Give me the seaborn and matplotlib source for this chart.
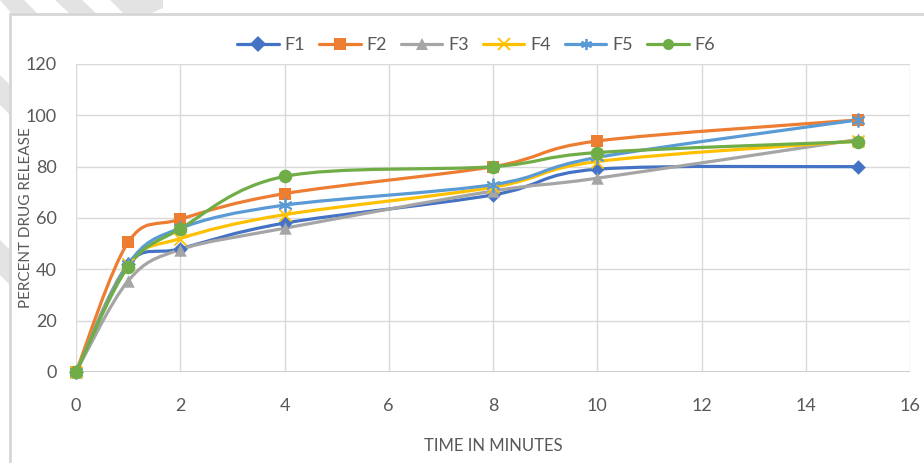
import numpy as np
import pandas as pd
import seaborn as sns
import matplotlib.pyplot as plt
from matplotlib.path import Path
from matplotlib.patches import PathPatch, Rectangle, Polygon
from matplotlib.lines import Line2D

time_min = [0, 1, 2, 4, 8, 10, 15]
f1 = [0, 42, 48, 58, 69, 79, 80]
f2 = [0, 50.5, 59.5, 69.5, 80, 90, 98.2]
f3 = [0, 35.5, 47.7, 56, 70.5, 75.5, 90.6]
f4 = [0, 42, 52, 61.3, 72, 82, 90]
f5 = [0, 42, 56, 65, 73, 83.6, 98.2]
f6 = [0, 41, 55.8, 76.2, 80, 85.5, 89.8]

names = ['F1', 'F2', 'F3', 'F4', 'F5', 'F6']
colors = ['#4472C4', '#ED7D31', '#A5A5A5', '#FFC000', '#5B9BD5', '#70AD47']
markers = ['D', 's', '^', 'x', (6, 2, 0), 'o']
msizes = [55, 85, 80, 75, 85, 95]

df = pd.DataFrame({'time': time_min, 'F1': f1, 'F2': f2, 'F3': f3,
                   'F4': f4, 'F5': f5, 'F6': f6})

sns.set_style('white')
plt.rcParams['font.family'] = ['Lato', 'DejaVu Sans']

W, H = 924, 463
fig = plt.figure(figsize=(W / 100, H / 100), dpi=100)


def px(pts):
    return [(x / W, 1 - y / H) for x, y in pts]


# faint diagonal stripes of the scanned page, then the chart frame
stripes = [
    [(0, 0), (24, 0), (38, 14), (12, 14)],
    [(55, 0), (82, 0), (97, 14), (70, 14)],
    [(110, 0), (163, 0), (163, 8), (150, 14), (124, 14)],
    [(0, 75), (10, 85), (10, 115), (0, 105)],
    [(0, 240), (10, 250), (10, 285), (0, 275)],
]
for s in stripes:
    fig.patches.append(Polygon(px(s), closed=True, transform=fig.transFigure,
                               facecolor='#e3e3e3', edgecolor='none', zorder=0))
fig.patches.append(Rectangle((10 / W, -0.05), 1.2, 1 - 14 / H + 0.05,
                             transform=fig.transFigure, facecolor='white',
                             edgecolor='#d6d6d6', lw=2, zorder=1))

ax = fig.add_axes([76 / W, 1 - 372 / H, 834 / W, 308 / H])
ax.set_zorder(2)


def smooth_path(xs, ys):
    # Excel style smoothed line: cubic bezier through every point
    p = np.column_stack([xs, ys]).astype(float)
    n = len(p)
    verts = [p[0]]
    codes = [Path.MOVETO]
    for i in range(n - 1):
        prev = p[i - 1] if i > 0 else p[i]
        nxt = p[i + 2] if i + 2 < n else p[i + 1]
        c1 = p[i] + (p[i + 1] - prev) / 6
        c2 = p[i + 1] - (nxt - p[i]) / 6
        verts += [c1, c2, p[i + 1]]
        codes += [Path.CURVE4] * 3
    return Path(verts, codes)


for name, col in zip(names, colors):
    ax.add_patch(PathPatch(smooth_path(df['time'], df[name]), fill=False,
                           edgecolor=col, lw=2.3, zorder=3, clip_on=False))

for name, col, mk, ms in zip(names, colors, markers, msizes):
    line_art = mk == 'x' or isinstance(mk, tuple)
    sns.scatterplot(data=df, x='time', y=name, marker=mk, color=col, s=ms,
                    linewidth=1.3 if line_art else 0, ax=ax, zorder=4,
                    legend=False, clip_on=False)

ax.set_xlim(0, 16)
ax.set_ylim(0, 120)
ax.set_xticks(range(0, 17, 2))
ax.set_yticks(range(0, 121, 20))
ax.grid(True, color='#d9d9d9', lw=1)
for s in ax.spines.values():
    s.set_visible(False)
ax.axhline(0, color='#c8c8c8', lw=1.2, zorder=2)
ax.tick_params(axis='both', length=0, labelsize=13, colors='#595959')
ax.tick_params(axis='x', pad=19)
ax.tick_params(axis='y', pad=14)
ax.set_xlabel('TIME IN MINUTES', fontsize=12, color='#595959')
ax.set_ylabel('PERCENT DRUG RELEASE', fontsize=11, color='#595959')
ax.xaxis.set_label_coords(0.5, -0.214)
ax.yaxis.set_label_coords(-0.052, 0.5)

handles = [Line2D([], [], color=c, lw=2.3, marker=m, markersize=8,
                  markeredgewidth=1.3 if (m == 'x' or isinstance(m, tuple)) else 0)
           for c, m in zip(colors, markers)]
fig.legend(handles, names, loc='center', bbox_to_anchor=(0.515, 0.903), ncol=6,
           frameon=False, fontsize=13, handlelength=2.3, handletextpad=0.3,
           columnspacing=0.8, labelcolor='#595959')

fig.savefig('out.png', dpi=100)
